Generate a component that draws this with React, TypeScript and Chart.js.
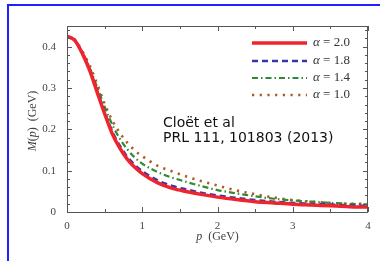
import React, { useEffect, useRef } from "react";
import { Chart, registerables } from "chart.js";

Chart.register(...registerables);

// momentum p (GeV)
const pValues = [0, 0.1, 0.2, 0.3, 0.4, 0.5, 0.6, 0.7, 0.8, 0.9, 1.0, 1.2, 1.4, 1.6, 1.8, 2.0, 2.25, 2.5, 2.75, 3.0, 3.25, 3.5, 3.75, 4.0];
// M(p) (GeV) for each alpha
const mAlpha20 = [0.425, 0.416, 0.385, 0.343, 0.29, 0.238, 0.19, 0.155, 0.128, 0.108, 0.093, 0.071, 0.057, 0.049, 0.042, 0.036, 0.03, 0.025, 0.022, 0.019, 0.017, 0.015, 0.013, 0.012];
const mAlpha18 = [0.425, 0.416, 0.386, 0.345, 0.293, 0.242, 0.196, 0.161, 0.134, 0.114, 0.099, 0.077, 0.063, 0.054, 0.046, 0.04, 0.034, 0.029, 0.025, 0.022, 0.02, 0.018, 0.016, 0.015];
const mAlpha14 = [0.425, 0.417, 0.388, 0.35, 0.302, 0.255, 0.212, 0.178, 0.152, 0.132, 0.117, 0.097, 0.083, 0.072, 0.062, 0.053, 0.045, 0.038, 0.032, 0.028, 0.025, 0.022, 0.02, 0.018];
const mAlpha10 = [0.425, 0.418, 0.39, 0.355, 0.31, 0.262, 0.222, 0.192, 0.168, 0.149, 0.135, 0.112, 0.098, 0.085, 0.074, 0.064, 0.052, 0.043, 0.035, 0.029, 0.025, 0.022, 0.02, 0.02];
const alphaLabels = ["2.0", "1.8", "1.4", "1.0"];

const xTickValues = [0, 1, 2, 3, 4];
const xTickLabels = ["0", "1", "2", "3", "4"];
const yTickValues = [0, 0.1, 0.2, 0.3, 0.4];
const yTickLabels = ["0", "0.1", "0.2", "0.3", "0.4"];
const annotationLines = ["Cloët et al", "PRL 111, 101803 (2013)"];

const SERIF = "'Liberation Serif', 'DejaVu Serif', serif";

const seriesStyles = [
  { color: "#f0242c", width: 3.5, dash: [] as number[], cap: "butt" },
  { color: "#3434b0", width: 2.5, dash: [6, 4], cap: "butt" },
  { color: "#2f8a35", width: 2.2, dash: [6, 3, 1.5, 3], cap: "butt" },
  { color: "#b4561e", width: 2.6, dash: [2.2, 5.5], cap: "butt" },
];

function drawMixed(ctx: CanvasRenderingContext2D, parts: { t: string; italic: boolean }[], cx: number, cy: number, size: number) {
  const fonts = parts.map((p) => `${p.italic ? "italic " : ""}${size}px ${SERIF}`);
  let total = 0;
  const widths = parts.map((p, i) => {
    ctx.font = fonts[i];
    const w = ctx.measureText(p.t).width;
    total += w;
    return w;
  });
  let x = cx - total / 2;
  ctx.textAlign = "left";
  ctx.textBaseline = "middle";
  parts.forEach((p, i) => {
    ctx.font = fonts[i];
    ctx.fillText(p.t, x, cy);
    x += widths[i];
  });
}

const decorPlugin = {
  id: "decor",
  afterDatasetsDraw(chart: any) {
    const ctx: CanvasRenderingContext2D = chart.ctx;
    const { left, right, top, bottom } = chart.chartArea;
    const xs = chart.scales.x;
    const ys = chart.scales.y;
    ctx.save();
    // frame
    ctx.strokeStyle = "#555";
    ctx.lineWidth = 1;
    ctx.strokeRect(Math.round(left) + 0.5, Math.round(top) + 0.5, Math.round(right - left) - 1, Math.round(bottom - top));
    // x ticks
    ctx.beginPath();
    for (let i = 0; i <= 8; i++) {
      const v = i * 0.5;
      const px = Math.round(xs.getPixelForValue(v)) + 0.5;
      const len = i % 2 === 0 ? 5 : 3;
      ctx.moveTo(px, bottom);
      ctx.lineTo(px, bottom - len);
      ctx.moveTo(px, top);
      ctx.lineTo(px, top + len);
    }
    for (let i = 0; i <= 22; i++) {
      const v = i * 0.02;
      const py = Math.round(ys.getPixelForValue(v)) + 0.5;
      const len = i % 5 === 0 ? 5 : 3;
      ctx.moveTo(left, py);
      ctx.lineTo(left + len, py);
      ctx.moveTo(right, py);
      ctx.lineTo(right - len, py);
    }
    ctx.stroke();

    // legend
    const rowY = [43, 61, 78, 95];
    chart.data.datasets.forEach((ds: any, i: number) => {
      const y = rowY[i];
      ctx.save();
      ctx.strokeStyle = ds.borderColor;
      ctx.lineWidth = ds.borderWidth;
      ctx.setLineDash(ds.borderDash || []);
      ctx.beginPath();
      ctx.moveTo(252, y);
      ctx.lineTo(307, y);
      ctx.stroke();
      ctx.restore();
      ctx.fillStyle = "#333";
      ctx.textAlign = "left";
      ctx.textBaseline = "middle";
      ctx.font = `italic 13px ${SERIF}`;
      const aw = ctx.measureText("α").width;
      ctx.fillText("α", 313, y);
      ctx.font = `13px ${SERIF}`;
      ctx.fillText(" = " + alphaLabels[i], 313 + aw, y);
    });

    // annotation
    ctx.fillStyle = "#111";
    ctx.font = "14px 'DejaVu Sans', sans-serif";
    ctx.textAlign = "left";
    ctx.textBaseline = "alphabetic";
    ctx.fillText(annotationLines[0], 163, 127);
    ctx.fillText(annotationLines[1], 163, 142);

    // axis titles
    ctx.fillStyle = "#444";
    drawMixed(ctx, [
      { t: "p", italic: true },
      { t: "  (GeV)", italic: false },
    ], (left + right) / 2, 237, 12);
    ctx.save();
    ctx.translate(33, 121);
    ctx.rotate(-Math.PI / 2);
    drawMixed(ctx, [
      { t: "M", italic: true },
      { t: "(", italic: false },
      { t: "p", italic: true },
      { t: ")  (GeV)", italic: false },
    ], 0, 0, 12);
    ctx.restore();
    ctx.restore();
  },
};

export default function App() {
  const ref = useRef<HTMLCanvasElement | null>(null);
  useEffect(() => {
    if (!ref.current) return;
    const series = [mAlpha20, mAlpha18, mAlpha14, mAlpha10];
    const chart = new Chart(ref.current, {
      type: "line",
      data: {
        datasets: series.map((arr, i) => ({
          label: "α = " + alphaLabels[i],
          data: pValues.map((p, j) => ({ x: p, y: arr[j] })),
          borderColor: seriesStyles[i].color,
          borderWidth: seriesStyles[i].width,
          borderDash: seriesStyles[i].dash,
          borderCapStyle: seriesStyles[i].cap as any,
          pointRadius: 0,
          fill: false,
          cubicInterpolationMode: "monotone" as const,
        })),
      },
      options: {
        responsive: false,
        animation: false,
        layout: { padding: { left: 0, right: 12, top: 26, bottom: 0 } },
        plugins: { legend: { display: false }, tooltip: { enabled: false } },
        scales: {
          x: {
            type: "linear",
            min: 0,
            max: 4,
            grid: { display: false, drawTicks: false },
            border: { display: false },
            afterBuildTicks: (s: any) => {
              s.ticks = xTickValues.map((v) => ({ value: v }));
            },
            afterFit: (s: any) => {
              s.height = 49;
            },
            ticks: {
              padding: 8,
              color: "#444",
              font: { family: SERIF, size: 11 },
              maxRotation: 0,
              callback: (v: any) => {
                const i = xTickValues.indexOf(Number(v));
                return i >= 0 ? xTickLabels[i] : "";
              },
            },
          },
          y: {
            type: "linear",
            min: 0,
            max: 0.45,
            grid: { display: false, drawTicks: false },
            border: { display: false },
            afterBuildTicks: (s: any) => {
              s.ticks = yTickValues.map((v) => ({ value: v }));
            },
            afterFit: (s: any) => {
              s.width = 67;
            },
            ticks: {
              padding: 11,
              color: "#444",
              font: { family: SERIF, size: 11 },
              callback: (v: any) => {
                const i = yTickValues.findIndex((t) => Math.abs(t - Number(v)) < 1e-9);
                return i >= 0 ? yTickLabels[i] : "";
              },
            },
          },
        },
      },
      plugins: [decorPlugin],
    } as any);
    return () => chart.destroy();
  }, []);

  return (
    <div style={{ position: "absolute", left: 0, top: 0, width: 380, height: 261, background: "#fff", overflow: "hidden" }}>
      <div
        style={{
          position: "absolute",
          left: 7,
          top: 4,
          width: 400,
          height: 300,
          borderTop: "2px solid #1f1fff",
          borderLeft: "2px solid #1f1fff",
        }}
      />
      <canvas ref={ref} width={380} height={261} style={{ position: "absolute", left: 0, top: 0, width: 380, height: 261 }} />
    </div>
  );
}
